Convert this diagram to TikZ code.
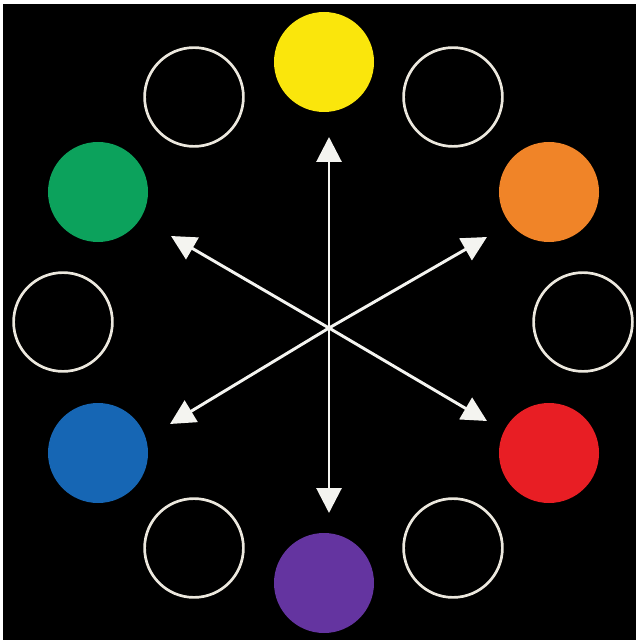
\documentclass[tikz,border=0pt]{standalone}
\usepackage{tikz}
\usetikzlibrary{arrows.meta}
\definecolor{WheelYellow}{RGB}{250,230,12}
\definecolor{WheelOrange}{RGB}{240,132,40}
\definecolor{WheelRed}{RGB}{232,30,36}
\definecolor{WheelPurple}{RGB}{100,52,160}
\definecolor{WheelBlue}{RGB}{22,102,180}
\definecolor{WheelGreen}{RGB}{12,162,92}
\definecolor{RingCream}{RGB}{236,232,222}
\definecolor{ArrowWhite}{RGB}{244,244,240}
\tikzset{
  primary/.style={circle,inner sep=0pt,minimum size=25mm},
  emptyslot/.style={circle,draw=RingCream,line width=1.9pt,inner sep=0pt,minimum size=24.7mm},
  wheelarrow/.style={-{Triangle[length=6.2mm,width=6.2mm]},line width=2.1pt,draw=ArrowWhite,fill=ArrowWhite}
}

\begin{document}
\begin{tikzpicture}[x=0.25mm,y=-0.25mm]
\fill[white] (0,0) rectangle (636,640);
\fill[black] (3,4) rectangle (636,640);
\useasboundingbox (0,0) rectangle (636,640);

\node[primary, fill=WheelYellow] (yellow) at (324,62) {};
\node[primary, fill=WheelOrange] (orange) at (549,192) {};
\node[primary, fill=WheelRed] (red) at (549,453) {};
\node[primary, fill=WheelPurple] (purple) at (324,583) {};
\node[primary, fill=WheelBlue] (blue) at (98,453) {};
\node[primary, fill=WheelGreen] (green) at (98,192) {};

\node[emptyslot] (e1) at (453,97) {};
\node[emptyslot] (e2) at (583,322) {};
\node[emptyslot] (e3) at (453,548) {};
\node[emptyslot] (e4) at (194,548) {};
\node[emptyslot] (e5) at (63,322) {};
\node[emptyslot] (e6) at (194,97) {};

\coordinate (hub) at (329,328);
\coordinate (tipY) at (329,137);
\coordinate (tipP) at (329,513);
\coordinate (tipO) at (487,237);
\coordinate (tipR) at (487,421);
\coordinate (tipB) at (170,424);
\coordinate (tipG) at (171,236);

\draw[wheelarrow] (hub) -- (tipY);
\draw[wheelarrow] (hub) -- (tipP);
\draw[wheelarrow] (hub) -- (tipO);
\draw[wheelarrow] (hub) -- (tipR);
\draw[wheelarrow] (hub) -- (tipB);
\draw[wheelarrow] (hub) -- (tipG);
\end{tikzpicture}
\end{document}
